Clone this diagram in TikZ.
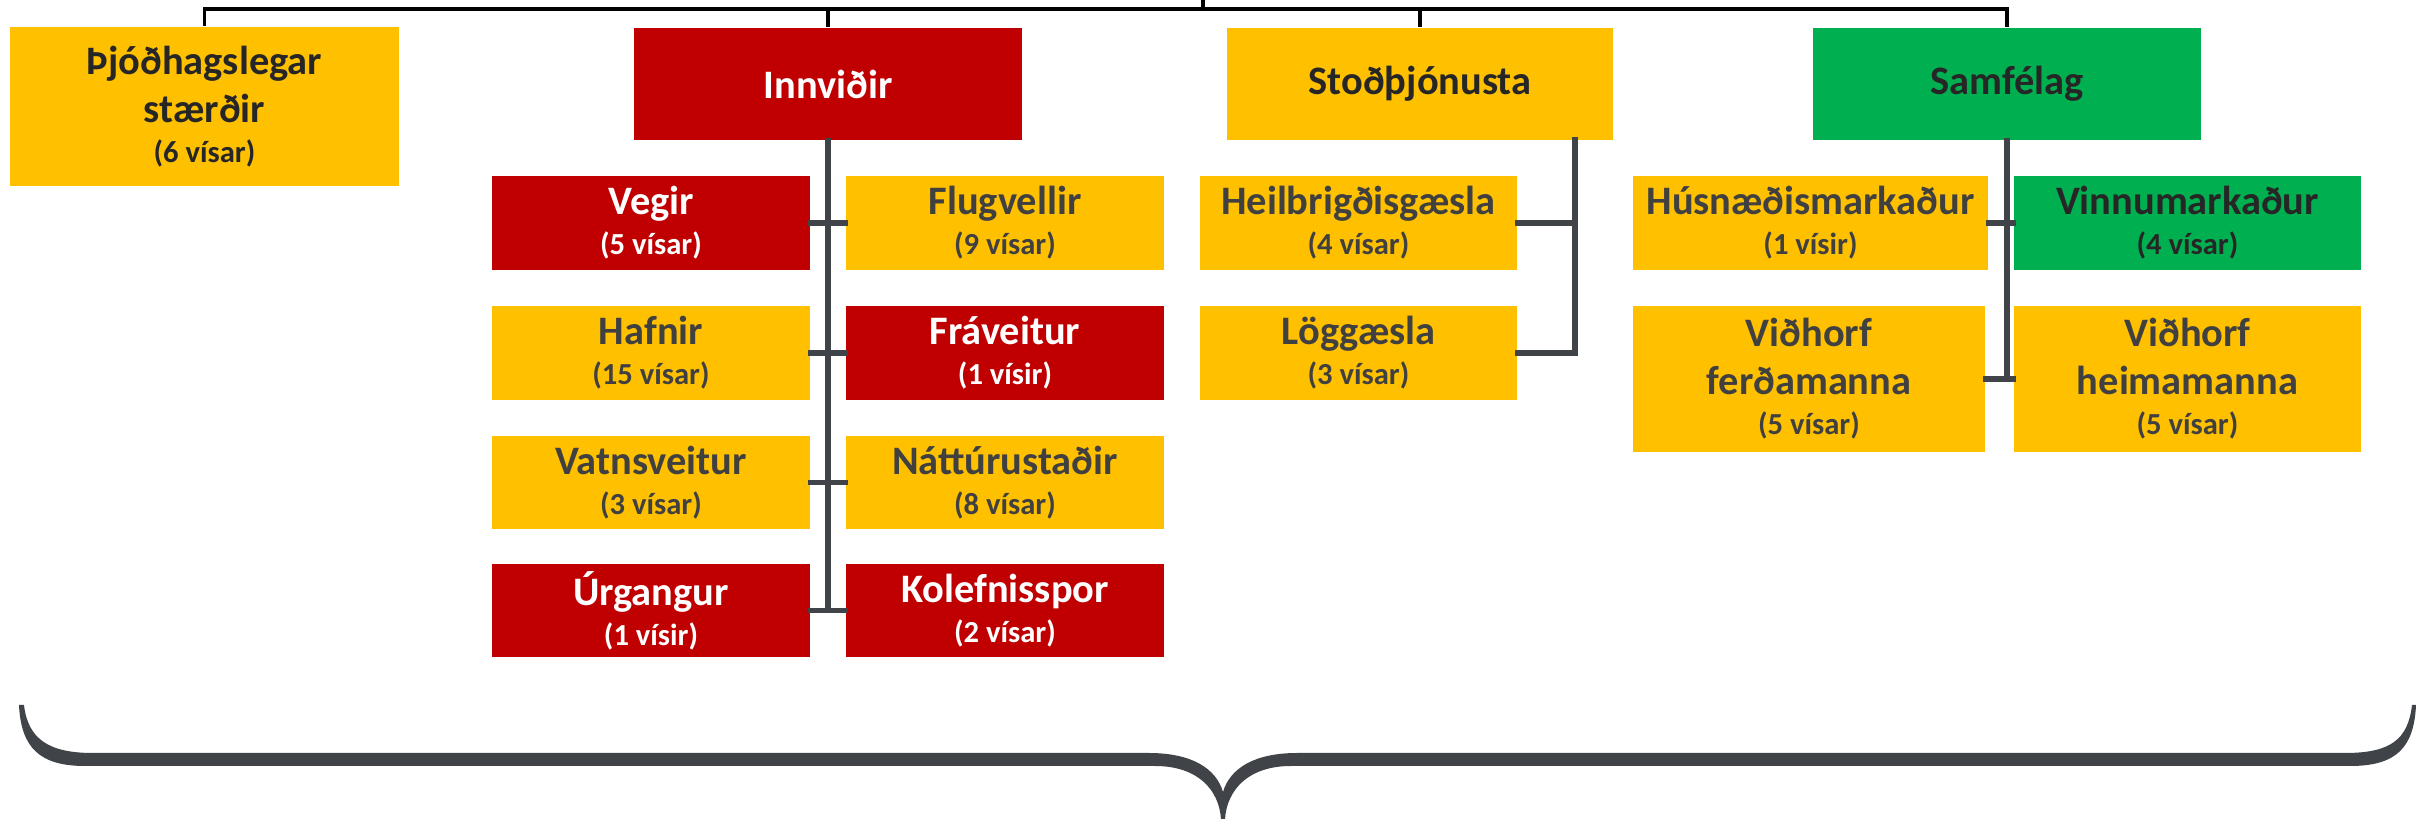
\documentclass[tikz,border=0pt]{standalone}
\usepackage{fontspec}
\setmainfont{Carlito}
\definecolor{cRed}{HTML}{C00000}
\definecolor{cYel}{HTML}{FFC000}
\definecolor{cGrn}{HTML}{00B050}
\definecolor{cTxt}{HTML}{404040}
\definecolor{cDark}{HTML}{262626}
\definecolor{cLine}{HTML}{404347}
\newcommand\tfont{\fontsize{11.5}{13.6}\selectfont\bfseries}
\newcommand\sfont{\fontsize{8.7}{10}\selectfont\bfseries}
\newcommand\subl[1]{\\[-2.2pt]{\sfont #1}}
\newcommand\mybox[7]{%
  \pgfmathsetmacro\bw{(#4-#2)/100}\pgfmathsetmacro\bh{(#5-#3)/100}%
  \node[#6,minimum width=\bw cm,minimum height=\bh cm] (#1) at ({(#2+#4)/2},{(#3+#5)/2}) {#7};}
\begin{document}
\begin{tikzpicture}[x=0.01cm,y=-0.01cm,
  base/.style={inner sep=0pt,align=center,font=\tfont},
  redb/.style={base,fill=cRed,text=white},
  yelb/.style={base,fill=cYel,text=cTxt},
  yeld/.style={base,fill=cYel,text=cDark},
  grnd/.style={base,fill=cGrn,text=cDark},
  topline/.style={draw=black,line width=1.1pt},
  trunk/.style={draw=cLine,line width=1.7pt,line cap=rect}]
\useasboundingbox (0,0) rectangle (2420,822);
% top level
\mybox{thj}{10}{27}{399}{186}{yeld}{Þjóðhagslegar\\stærðir\subl{(6 vísar)}}
\mybox{inn}{634}{28}{1022}{140}{redb}{Innviðir}
\mybox{stod}{1227}{28}{1613}{140}{yeld}{Stoðþjónusta}
\mybox{sam}{1813}{28}{2201}{140}{grnd}{Samfélag}
% Innviðir children
\mybox{veg}{492}{176}{810}{270}{redb}{Vegir\subl{(5 vísar)}}
\mybox{flu}{846}{176}{1164}{270}{yelb}{Flugvellir\subl{(9 vísar)}}
\mybox{haf}{492}{306}{810}{400}{yelb}{Hafnir\subl{(15 vísar)}}
\mybox{fra}{846}{306}{1164}{400}{redb}{Fráveitur\subl{(1 vísir)}}
\mybox{vat}{492}{436}{810}{529}{yelb}{Vatnsveitur\subl{(3 vísar)}}
\mybox{nat}{846}{436}{1164}{529}{yelb}{Náttúrustaðir\subl{(8 vísar)}}
\mybox{urg}{492}{564}{810}{657}{redb}{Úrgangur\subl{(1 vísir)}}
\mybox{kol}{846}{564}{1164}{657}{redb}{Kolefnisspor\subl{(2 vísar)}}
% Stoðþjónusta children
\mybox{heil}{1200}{176}{1517}{270}{yelb}{Heilbrigðisgæsla\subl{(4 vísar)}}
\mybox{log}{1200}{306}{1517}{400}{yelb}{Löggæsla\subl{(3 vísar)}}
% Samfélag children
\mybox{hus}{1633}{176}{1988}{270}{yelb}{Húsnæðismarkaður\subl{(1 vísir)}}
\mybox{vin}{2014}{176}{2361}{270}{grnd}{Vinnumarkaður\subl{(4 vísar)}}
\mybox{vf}{1633}{306}{1985}{452}{yelb}{Viðhorf\\ferðamanna\subl{(5 vísar)}}
\mybox{vh}{2014}{306}{2361}{452}{yelb}{Viðhorf\\heimamanna\subl{(5 vísar)}}
% top connector
\coordinate (top) at (1203,9);
\coordinate (stem) at (1203,-2);
\draw[topline] (thj.north) |- (top) -| (sam.north);
\draw[topline] (inn.north) -- (inn.north |- top);
\draw[topline] (stod.north) -- (stod.north |- top);
\draw[topline] (top) -- (stem);
% Innviðir trunk
\draw[trunk] (inn.south) -- (inn.south |- urg.east);
\draw[trunk] (veg.east) -- (flu.west);
\draw[trunk] (haf.east) -- (fra.west);
\draw[trunk] (vat.east) -- (nat.west);
\draw[trunk] (urg.east) -- (kol.west);
% Stoðþjónusta trunk
\coordinate (st) at (1575,140);
\draw[trunk] (st) |- (log.east);
\draw[trunk] (heil.east) -- (heil.east -| st);
% Samfélag trunk
\draw[trunk] (sam.south) -- (sam.south |- vf.east);
\draw[trunk] (hus.east) -- (vin.west);
\draw[trunk] (vf.east) -- (vh.west);
% brace
\fill[cLine] (19,705) .. controls (21,748) and (40,766) .. (85,766) -- (1155,766)
  .. controls (1198,766) and (1219,790) .. (1221,819) -- (1225,819)
  .. controls (1227,790) and (1248,766) .. (1291,766) -- (2350,766)
  .. controls (2396,766) and (2414,748) .. (2416,705) -- (2412,705)
  .. controls (2408,740) and (2390,753) .. (2345,753) -- (1297,753)
  .. controls (1255,753) and (1230,768) .. (1223,792)
  .. controls (1216,768) and (1191,753) .. (1149,753) -- (93,753)
  .. controls (50,753) and (28,740) .. (24,705) -- cycle;
\end{tikzpicture}
\end{document}
